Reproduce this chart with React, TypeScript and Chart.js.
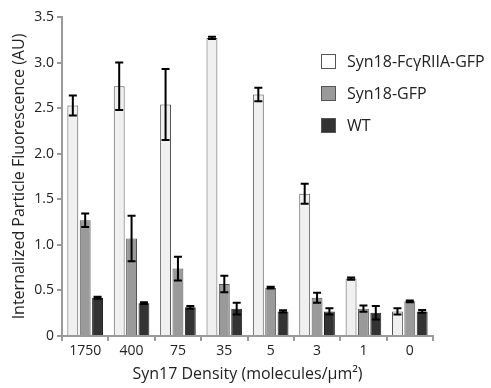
import React, { useEffect, useRef } from "react";
import { Chart, registerables } from "chart.js";

Chart.register(...registerables);

const categories = ["1750", "400", "75", "35", "5", "3", "1", "0"];
const fcrValues = [2.53, 2.74, 2.54, 3.27, 2.65, 1.56, 0.63, 0.27];
const fcrErrors = [0.11, 0.26, 0.39, 0.012, 0.075, 0.11, 0.012, 0.035];
const gfpValues = [1.27, 1.07, 0.74, 0.57, 0.53, 0.42, 0.3, 0.38];
const gfpErrors = [0.075, 0.25, 0.13, 0.09, 0.01, 0.055, 0.035, 0.01];
const wtValues = [0.42, 0.36, 0.315, 0.3, 0.27, 0.27, 0.255, 0.27];
const wtErrors = [0.01, 0.01, 0.015, 0.065, 0.012, 0.035, 0.075, 0.015];
const seriesNames = ["Syn18-FcγRIIA-GFP", "Syn18-GFP", "WT"];
const yTicks = [0, 0.5, 1.0, 1.5, 2.0, 2.5, 3.0, 3.5];

const FONT = "'Open Sans', 'DejaVu Sans', sans-serif";
const AXIS_GRAY = "#9a9a9a";
const TEXT = "#222222";
const errorLists = [fcrErrors, gfpErrors, wtErrors];
const legendSwatches = ["#ffffff", "#9a9a9a", "#333333"];

const errorBarPlugin = {
  id: "errorBars",
  afterDatasetsDraw(chart: any) {
    const ctx = chart.ctx;
    const yScale = chart.scales.y;
    ctx.save();
    ctx.strokeStyle = "#000";
    ctx.lineWidth = 2;
    chart.data.datasets.forEach((ds: any, di: number) => {
      const meta = chart.getDatasetMeta(di);
      const errs = errorLists[di];
      meta.data.forEach((bar: any, i: number) => {
        const v = ds.data[i];
        const e = errs[i];
        const yt = yScale.getPixelForValue(v + e);
        const yb = yScale.getPixelForValue(v - e);
        const x = bar.x;
        const cap = 4;
        ctx.beginPath();
        ctx.moveTo(x, yt);
        ctx.lineTo(x, yb);
        ctx.moveTo(x - cap, yt);
        ctx.lineTo(x + cap, yt);
        ctx.moveTo(x - cap, yb);
        ctx.lineTo(x + cap, yb);
        ctx.stroke();
      });
    });
    ctx.restore();
  },
};

const sideLegendPlugin = {
  id: "sideLegend",
  afterDraw(chart: any) {
    const ctx = chart.ctx;
    ctx.save();
    const x0 = 321;
    const y0 = 54;
    const box = 15;
    const gap = 32;
    ctx.font = `16px ${FONT}`;
    ctx.textBaseline = "middle";
    chart.data.datasets.forEach((ds: any, i: number) => {
      const y = y0 + i * gap;
      ctx.fillStyle = legendSwatches[i];
      ctx.fillRect(x0, y, box, box);
      ctx.strokeStyle = "#555";
      ctx.lineWidth = 1;
      ctx.strokeRect(x0 + 0.5, y + 0.5, box - 1, box - 1);
      ctx.fillStyle = TEXT;
      ctx.fillText(ds.label, x0 + 26, y + box / 2 + 1);
    });
    ctx.restore();
  },
};

export default function App() {
  const canvasRef = useRef<HTMLCanvasElement | null>(null);

  useEffect(() => {
    document.body.style.margin = "0";
    const canvas = canvasRef.current;
    if (!canvas) return;
    const chart = new Chart(canvas, {
      type: "bar",
      data: {
        labels: categories,
        datasets: [
          {
            label: seriesNames[0],
            data: fcrValues,
            backgroundColor: "#f0f0f0",
            borderColor: "#555555",
            borderWidth: 1,
          },
          {
            label: seriesNames[1],
            data: gfpValues,
            backgroundColor: "#9a9a9a",
            borderColor: "#555555",
            borderWidth: 1,
          },
          {
            label: seriesNames[2],
            data: wtValues,
            backgroundColor: "#333333",
            borderColor: "#222222",
            borderWidth: 1,
          },
        ],
      },
      options: {
        animation: false,
        responsive: false,
        maintainAspectRatio: false,
        layout: { padding: { top: 17, right: 58, left: 0, bottom: 0 } },
        datasets: {
          bar: { categoryPercentage: 0.8, barPercentage: 0.88 },
        },
        plugins: {
          legend: { display: false },
          tooltip: { enabled: false },
        },
        scales: {
          x: {
            offset: true,
            grid: {
              offset: true,
              drawOnChartArea: false,
              drawTicks: true,
              tickLength: 5,
              color: AXIS_GRAY,
              lineWidth: 2,
            },
            border: { color: AXIS_GRAY, width: 2 },
            ticks: {
              color: TEXT,
              font: { family: FONT, size: 14 },
              padding: 2,
            },
            title: {
              display: true,
              text: "Syn17 Density (molecules/µm²)",
              color: TEXT,
              font: { family: FONT, size: 16 },
              padding: { top: 0, bottom: 4 },
            },
            afterFit(scale: any) {
              scale.height = 52;
            },
          },
          y: {
            min: 0,
            max: 3.5,
            afterBuildTicks(scale: any) {
              scale.ticks = yTicks.map((v) => ({ value: v }));
            },
            grid: {
              drawOnChartArea: false,
              drawTicks: true,
              tickLength: 5,
              color: AXIS_GRAY,
              lineWidth: 2,
            },
            border: { color: AXIS_GRAY, width: 2 },
            ticks: {
              color: TEXT,
              font: { family: FONT, size: 14 },
              padding: 3,
              callback: (v: any) => (Number(v) === 0 ? "0" : Number(v).toFixed(1)),
            },
            title: {
              display: true,
              text: "Internalized Particle Fluorescence (AU)",
              color: TEXT,
              font: { family: FONT, size: 16 },
              padding: { top: 10, bottom: 0 },
            },
            afterFit(scale: any) {
              scale.width = 62;
            },
          },
        },
      },
      plugins: [errorBarPlugin, sideLegendPlugin],
    });
    return () => chart.destroy();
  }, []);

  return (
    <div style={{ position: "absolute", left: 0, top: 0, width: 491, height: 388 }}>
      <canvas ref={canvasRef} width={491} height={388} style={{ display: "block" }} />
    </div>
  );
}
